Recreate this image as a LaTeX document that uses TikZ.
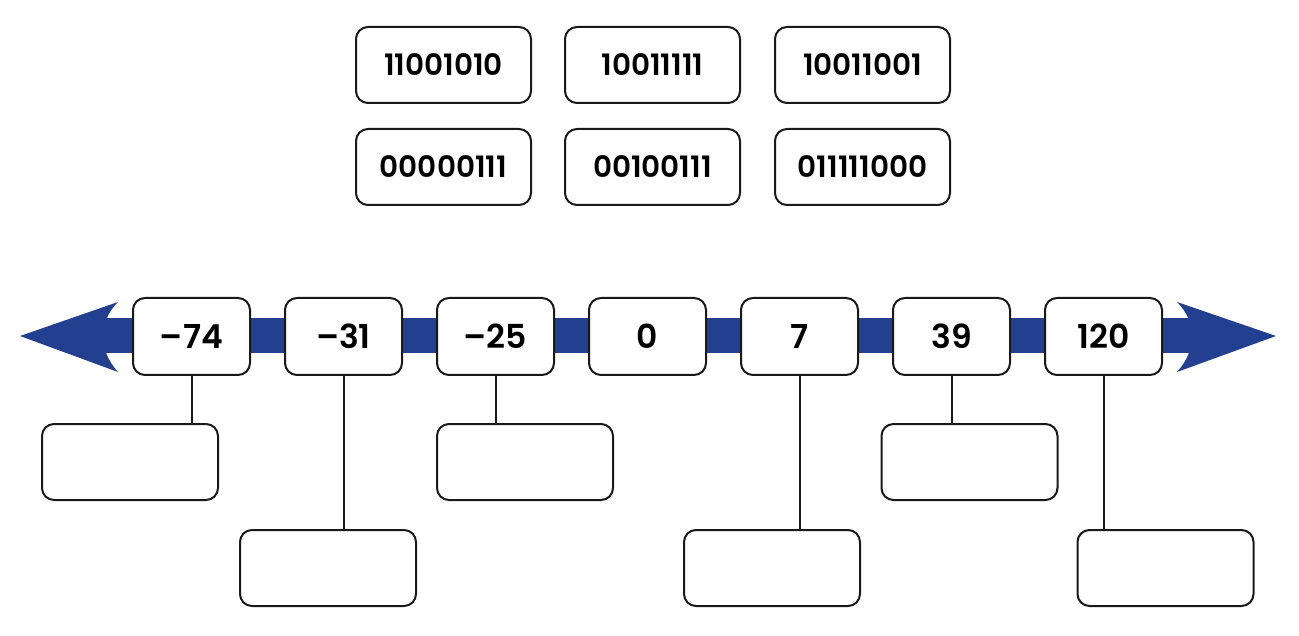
\documentclass[tikz,border=0pt]{standalone}
\usepackage{fontspec}
\setmainfont{Poppins}[BoldFont={Poppins SemiBold}]
\definecolor{barblue}{HTML}{233F8F}
\begin{document}
\begin{tikzpicture}[x=1pt,y=-1pt,
  bin/.style={draw=black!90,line width=2pt,rounded corners=12pt,fill=white,minimum width=175pt,minimum height=76pt,inner sep=0pt,font=\fontsize{29.5}{34}\selectfont\bfseries},
  num/.style={draw=black!90,line width=2pt,rounded corners=12pt,fill=white,minimum width=117pt,minimum height=77pt,inner sep=0pt,font=\fontsize{33}{38}\selectfont\bfseries},
  ans/.style={draw=black!90,line width=2pt,rounded corners=12pt,fill=white,minimum width=176pt,minimum height=76pt,inner sep=0pt},
  link/.style={draw=black!90,line width=2pt}]
\useasboundingbox (0,0) rectangle (1299,636);
% top binary boxes
\node[bin] (b1) at (443.5,65) {11001010};
\node[bin] (b2) at (652.5,65) {10011111};
\node[bin] (b3) at (862.5,65) {10011001};
\node[bin] (b4) at (443.5,167) {00000111};
\node[bin] (b5) at (652.5,167) {00100111};
\node[bin] (b6) at (862.5,167) {011111000};
% number line
\fill[barblue] (98,318) rectangle (1197,353);
\fill[barblue] (20,336) -- (118,302) .. controls (98,322) and (98,350) .. (118,372) -- cycle;
\fill[barblue] (1276,336) -- (1177,302) .. controls (1197,322) and (1197,350) .. (1177,372) -- cycle;
% number boxes
\node[num] (n1) at (191.5,336.5) {\char"2013 74};
\node[num] (n2) at (343.5,336.5) {\char"2013 31};
\node[num] (n3) at (495.5,336.5) {\char"2013 25};
\node[num] (n4) at (647.5,336.5) {0};
\node[num] (n5) at (799.5,336.5) {7};
\node[num] (n6) at (951.5,336.5) {39};
\node[num] (n7) at (1103.5,336.5) {120};
% answer boxes
\node[ans] (a1) at (130,462) {};
\node[ans] (a2) at (328,568) {};
\node[ans] (a3) at (525,462) {};
\node[ans] (a5) at (772,568) {};
\node[ans] (a6) at (969.5,462) {};
\node[ans] (a7) at (1165.5,568) {};
% connectors
\draw[link] (n1.south) -- (n1.south |- a1.north);
\draw[link] (n2.south) -- (n2.south |- a2.north);
\draw[link] (n3.south) -- (n3.south |- a3.north);
\draw[link] (n5.south) -- (n5.south |- a5.north);
\draw[link] (n6.south) -- (n6.south |- a6.north);
\draw[link] (n7.south) -- (n7.south |- a7.north);
\end{tikzpicture}
\end{document}
